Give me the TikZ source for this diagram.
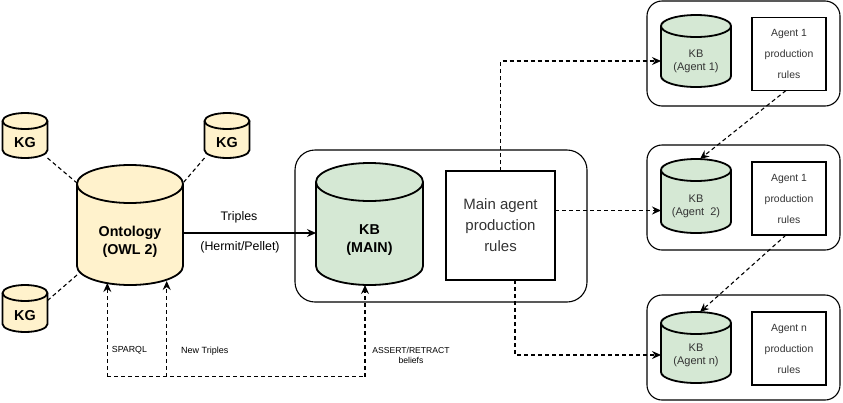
\documentclass[tikz,border=0pt]{standalone}
\usepackage{fontspec}
\setmainfont{Liberation Sans}
\usetikzlibrary{arrows.meta}
\definecolor{ontofill}{HTML}{FFF2CC}
\definecolor{kbfill}{HTML}{D5E8D4}
\definecolor{txtgray}{HTML}{333333}
\newcommand{\dbcyl}[6]{%
  \node (#1) [minimum width=#3pt,minimum height=#4pt,inner sep=0pt,outer sep=0pt] at (#2) {};
  \filldraw [dbline,fill=#6] ([yshift=-#5pt]#1.north west) -- ([yshift=#5pt]#1.south west)
    arc [start angle=180,end angle=360,x radius=#3pt/2,y radius=#5pt]
    -- ([yshift=-#5pt]#1.north east)
    arc [start angle=0,end angle=180,x radius=#3pt/2,y radius=#5pt] -- cycle;
  \draw [dbline] ([yshift=-#5pt]#1.north west) arc [start angle=180,end angle=360,x radius=#3pt/2,y radius=#5pt];
}
\begin{document}
\begin{tikzpicture}[x=1pt,y=-1pt,
  dbline/.style={line width=1.8pt},
  kgtext/.style={font=\bfseries\fontsize{14.4}{16}\selectfont},
  bigtext/.style={align=center,font=\bfseries\fontsize{14.3}{18.5}\selectfont},
  agtext/.style={align=center,font=\fontsize{11}{13}\selectfont,text=txtgray},
  rulebox/.style={draw,line width=1.1pt,inner sep=0pt,outer sep=0pt,align=center,text=txtgray},
  agrules/.style={rulebox,minimum width=74pt,minimum height=73pt,font=\fontsize{10.4}{21}\selectfont},
  agentbox/.style={draw,line width=1.1pt,rounded corners=15pt,minimum width=193pt,minimum height=105pt},
  link/.style={dash pattern=on 4pt off 3pt,line width=1.1pt},
  arr/.style={-{Stealth[length=9pt,width=8pt,inset=3pt]}}]
\useasboundingbox (0,0) rectangle (843,402);
\node (mainbox) [draw,line width=1.1pt,rounded corners=20pt,minimum width=292pt,minimum height=152pt] at (441,226) {};
\node (agbox1) [agentbox] at (743.5,53.5) {};
\node (agbox2) [agentbox] at (743.5,197.5) {};
\node (agbox3) [agentbox] at (743.5,347.5) {};
\dbcyl{kg1}{25,135.5}{45}{45}{8}{ontofill}
\dbcyl{kg2}{227,135.5}{45}{45}{8}{ontofill}
\dbcyl{kg3}{25,308.5}{45}{47}{8}{ontofill}
\dbcyl{onto}{130,225}{106}{120}{19}{ontofill}
\dbcyl{kbm}{369.5,224}{107}{122}{19}{kbfill}
\dbcyl{kba1}{696,51}{70}{72}{11}{kbfill}
\dbcyl{kba2}{696,196}{70}{74}{11}{kbfill}
\dbcyl{kba3}{696,347.5}{70}{71}{11}{kbfill}
\node (kg1txt) [kgtext] at (25,143) {KG};
\node (kg2txt) [kgtext] at (227,143) {KG};
\node (kg3txt) [kgtext] at (25,315.5) {KG};
\node (ontotxt) [bigtext] at (130,242) {Ontology\\(OWL 2)};
\node (kbmtxt) [bigtext] at (369.5,240) {KB\\(MAIN)};
\node (kba1txt) [agtext] at (696,61.5) {KB\\(Agent 1)};
\node (kba2txt) [agtext] at (696,206) {KB\\(Agent\ \ 2)};
\node (kba3txt) [agtext] at (696,355) {KB\\(Agent n)};
\node (mrules) [rulebox,minimum width=109pt,minimum height=109pt,font=\fontsize{15}{21}\selectfont] at (500.5,225.5) {Main agent\\production\\rules};
\node (ra1) [agrules] at (789,54) {Agent 1\\production\\rules};
\node (ra2) [agrules] at (789,198.5) {Agent 1\\production\\rules};
\node (ra3) [agrules] at (789,348.5) {Agent n\\production\\rules};
\node (triples) [font=\fontsize{12.4}{14}\selectfont] at (239,217.5) {Triples};
\node (hermit) [font=\fontsize{12.4}{14}\selectfont] at (240,247) {(Hermit/Pellet)};
\node (sparql) [anchor=west,inner sep=0pt,font=\fontsize{8.8}{10}\selectfont] at (111.7,350.7) {SPARQL};
\node (newtr) [anchor=west,inner sep=0pt,font=\fontsize{9}{10}\selectfont] at (181,350.7) {New Triples};
\node (assert) [align=center,inner sep=0pt,font=\fontsize{8.6}{10.5}\selectfont] at (411,355.5) {ASSERT/RETRACT\\beliefs};
\coordinate (b1) at (107.3,376.5);
\coordinate (b2) at (166.7,376.5);
\coordinate (b3) at (365,376.5);
\draw [link] (kg1.south east) -- ([yshift=42pt]onto.west);
\draw [link] (kg2.south west) -- ([yshift=42pt]onto.east);
\draw [link] ([yshift=8pt]kg3.east) -- ([yshift=-50pt]onto.west);
\draw [arr,line width=1.1pt] ([yshift=-8pt]onto.east) -- ([yshift=-8pt]onto.east -| kbm.west);
\draw [link,arr] (mrules.north) |- ([yshift=-10pt]kba1.west);
\draw [link,arr] ([yshift=15pt]mrules.east) -- ([yshift=15pt]mrules.east -| kba2.west);
\draw [link,arr] ([xshift=14.5pt]mrules.south) |- ([yshift=-7.5pt]kba3.west);
\draw [link,arr] ([xshift=-3pt]ra1.south) -- ([xshift=4pt]kba2.north);
\draw [link,arr] ([xshift=-3pt]ra2.south) -- ([xshift=4pt]kba3.north);
\draw [link] (b1) -- (b3);
\draw [link,arr] (b1) -- ([yshift=2pt]b1 |- onto.south);
\draw [link,arr] (b2) -- ([yshift=4pt]b2 |- onto.south);
\draw [link,arr] (b3) -- (b3 |- kbm.south);
\end{tikzpicture}
\end{document}
